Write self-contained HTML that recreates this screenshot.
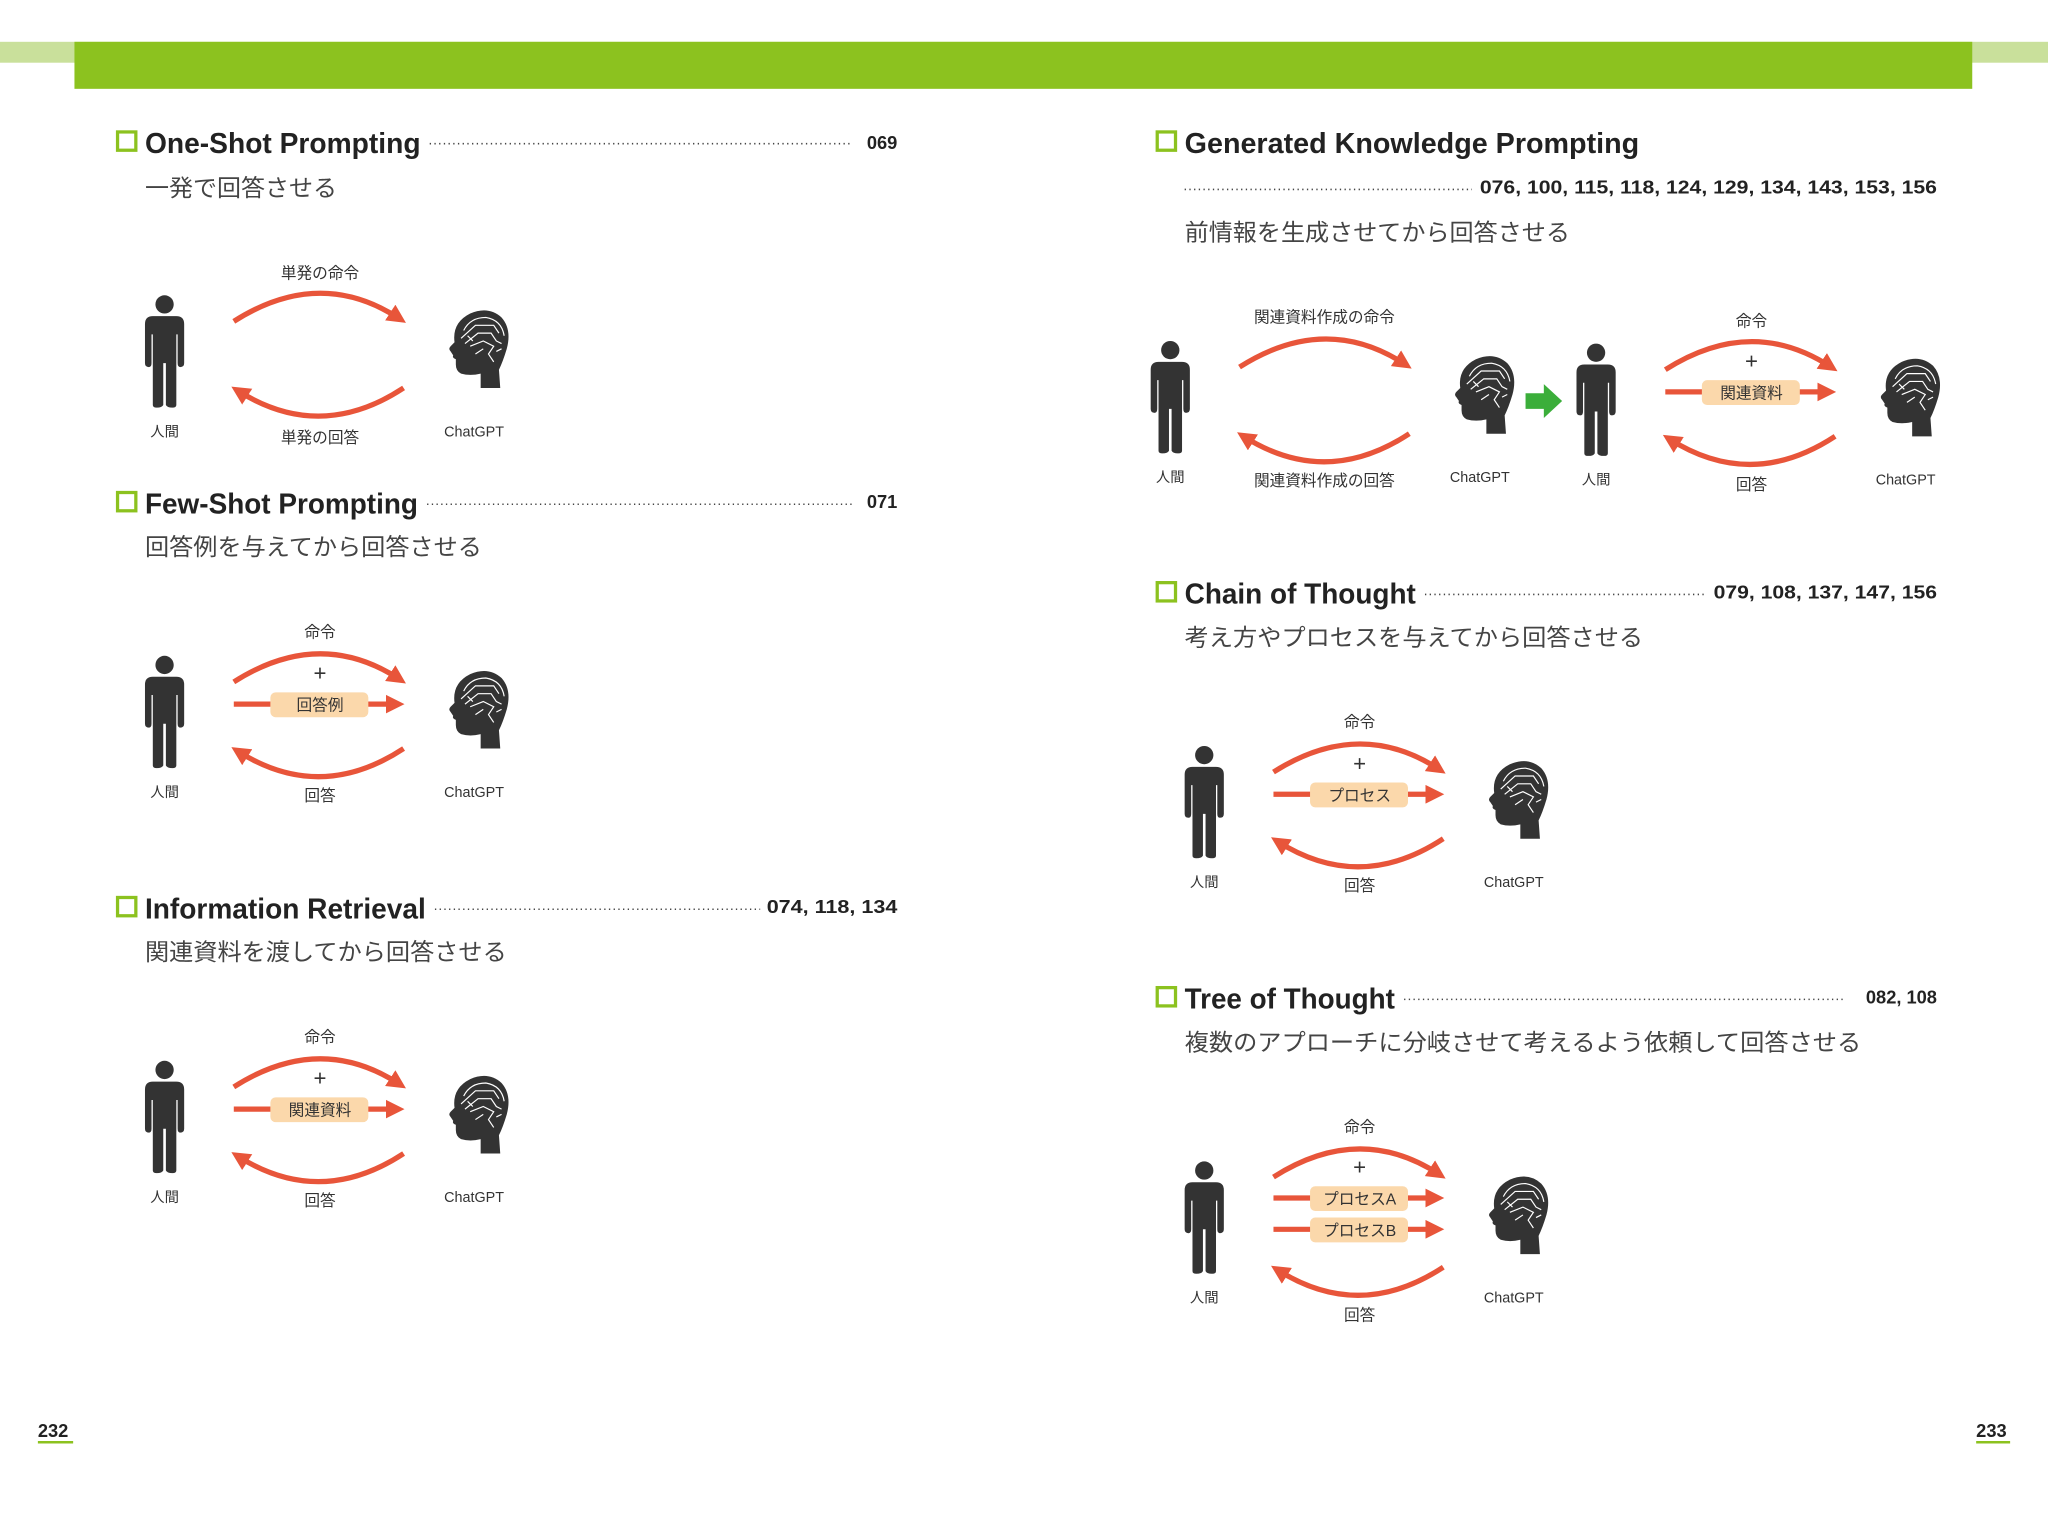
<!DOCTYPE html>
<html><head><meta charset="utf-8"><style>
html,body{margin:0;padding:0;background:#fff;width:2048px;height:1535px;overflow:hidden}
svg{display:block}
.t{font-family:"Liberation Sans","Noto Sans CJK JP",sans-serif;font-weight:bold;font-size:22px;fill:#222}
.n{font-family:"Liberation Sans",sans-serif;font-weight:bold;font-size:14px;fill:#222}
.s{font-family:"Liberation Sans","Noto Sans CJK JP",sans-serif;font-size:18px;fill:#444}
.l{font-family:"Liberation Sans","Noto Sans CJK JP",sans-serif;font-size:11px;fill:#333}
.lb{font-family:"Liberation Sans","Noto Sans CJK JP",sans-serif;font-size:12px;fill:#333}
.bx{font-family:"Liberation Sans","Noto Sans CJK JP",sans-serif;font-size:12px;fill:#333}
.dot{stroke:#444;stroke-width:1.2;stroke-dasharray:1 2.6}
.arc{fill:none;stroke:#e8553a;stroke-width:4}
</style></head><body>
<svg width="2048" height="1535" viewBox="0 0 1568 1175" preserveAspectRatio="none" xmlns="http://www.w3.org/2000/svg">
<defs>
<marker id="ah" viewBox="0 0 10 10" refX="6" refY="5" markerWidth="3.6" markerHeight="3.6" orient="auto"><path d="M0,0 L10,5 L0,10 Z" fill="#e8553a"/></marker>
<g id="person" fill="#333">
<circle cx="0" cy="7" r="7"/>
<path d="M-15,22 Q-15,16 -9,16 L9,16 Q15,16 15,22 L15,52 Q15,55 12,55 Q10,55 10,52 L10,30 L9,30 L9,84 Q9,86 6,86 Q2,86 1,84 L1,52 L-1,52 L-1,84 Q-2,86 -6,86 Q-9,86 -9,84 L-9,30 L-10,30 L-10,52 Q-10,55 -12,55 Q-15,55 -15,52 Z"/>
</g>
<g id="head">
<path fill="#333" d="M28,60 L28,49 Q20,51 13,49 Q9,47 9,42 L9,38 Q6,37 7,35 L5,32 Q3,30 5,28 L8,25 Q6,10 20,3 Q34,-3 44,6 Q52,15 48,30 Q45,40 42,46 L43,60 Z"/>
<g fill="none" stroke="#fff" stroke-width="0.9">
<path d="M15,16 Q20,6 32,6 Q44,8 46,20"/><path d="M13,22 L24,12 L38,12 L42,18"/>
<path d="M16,26 L26,18 L36,18 L40,24 L44,26"/><path d="M20,28 L30,24 L38,28 L34,34 L38,40"/>
<path d="M24,34 L30,30 M18,20 L22,24 M40,32 L44,30"/>
</g>
</g>
</defs>

<rect x="0" y="32" width="1568" height="16" fill="#c9e09b"/>
<rect x="57" y="32" width="1453" height="36" fill="#8cc21f"/>

<g>
<rect x="90" y="101" width="14" height="14" fill="none" stroke="#8cc21f" stroke-width="2.5"/>
<text class="t" x="111" y="117" textLength="211" lengthAdjust="spacingAndGlyphs">One-Shot Prompting</text>
<line class="dot" x1="329" y1="110" x2="653" y2="110"/>
<text class="n" x="687" y="114" text-anchor="end">069</text>
<text class="s" x="111" y="150" textLength="147" lengthAdjust="spacingAndGlyphs">一発で回答させる</text>

<rect x="90" y="377" width="14" height="14" fill="none" stroke="#8cc21f" stroke-width="2.5"/>
<text class="t" x="111" y="393" textLength="209" lengthAdjust="spacingAndGlyphs">Few-Shot Prompting</text>
<line class="dot" x1="327" y1="386" x2="653" y2="386"/>
<text class="n" x="687" y="389" text-anchor="end">071</text>
<text class="s" x="111" y="425" textLength="258" lengthAdjust="spacingAndGlyphs">回答例を与えてから回答させる</text>

<rect x="90" y="687" width="14" height="14" fill="none" stroke="#8cc21f" stroke-width="2.5"/>
<text class="t" x="111" y="703" textLength="215" lengthAdjust="spacingAndGlyphs">Information Retrieval</text>
<line class="dot" x1="333" y1="696" x2="582" y2="696"/>
<text class="n" x="587" y="699" textLength="100" lengthAdjust="spacingAndGlyphs">074, 118, 134</text>
<text class="s" x="111" y="735" textLength="277" lengthAdjust="spacingAndGlyphs">関連資料を渡してから回答させる</text>

<rect x="886" y="101" width="14" height="14" fill="none" stroke="#8cc21f" stroke-width="2.5"/>
<text class="t" x="907" y="117" textLength="348" lengthAdjust="spacingAndGlyphs">Generated Knowledge Prompting</text>
<line class="dot" x1="907" y1="145" x2="1127" y2="145"/>
<text class="n" x="1133" y="148" textLength="350" lengthAdjust="spacingAndGlyphs">076, 100, 115, 118, 124, 129, 134, 143, 153, 156</text>
<text class="s" x="907" y="184" textLength="295" lengthAdjust="spacingAndGlyphs">前情報を生成させてから回答させる</text>

<rect x="886" y="446" width="14" height="14" fill="none" stroke="#8cc21f" stroke-width="2.5"/>
<text class="t" x="907" y="462" textLength="177" lengthAdjust="spacingAndGlyphs">Chain of Thought</text>
<line class="dot" x1="1091" y1="455" x2="1306" y2="455"/>
<text class="n" x="1312" y="458" textLength="171" lengthAdjust="spacingAndGlyphs">079, 108, 137, 147, 156</text>
<text class="s" x="907" y="494" textLength="351" lengthAdjust="spacingAndGlyphs">考え方やプロセスを与えてから回答させる</text>

<rect x="886" y="756" width="14" height="14" fill="none" stroke="#8cc21f" stroke-width="2.5"/>
<text class="t" x="907" y="772" textLength="161" lengthAdjust="spacingAndGlyphs">Tree of Thought</text>
<line class="dot" x1="1075" y1="765" x2="1413" y2="765"/>
<text class="n" x="1483" y="768" text-anchor="end">082, 108</text>
<text class="s" x="907" y="804" textLength="518" lengthAdjust="spacingAndGlyphs">複数のアプローチに分岐させて考えるよう依頼して回答させる</text>
</g>

<g transform="translate(126,226)">
<use href="#person"/>
<use href="#head" x="214" y="11"/>
<text class="l" x="0" y="108" text-anchor="middle">人間</text>
<text class="l" x="237" y="108" text-anchor="middle">ChatGPT</text>
<path class="arc" d="M53,20 Q119,-22 180,18" marker-end="url(#ah)"/>
<path class="arc" d="M183,71 Q119,113 56,73" marker-end="url(#ah)"/>
<text class="lb" x="119" y="-13" text-anchor="middle">単発の命令</text>
<text class="lb" x="119" y="113" text-anchor="middle">単発の回答</text>
</g>

<g transform="translate(126,502)">
<use href="#person"/>
<use href="#head" x="214" y="11"/>
<text class="l" x="0" y="108" text-anchor="middle">人間</text>
<text class="l" x="237" y="108" text-anchor="middle">ChatGPT</text>
<path class="arc" d="M53,20 Q119,-22 180,18" marker-end="url(#ah)"/>
<line class="arc" x1="53" y1="37" x2="178" y2="37" marker-end="url(#ah)"/>
<rect x="81" y="28" width="75" height="19" rx="4" fill="#fbd8ab"/>
<text class="bx" x="119" y="42" text-anchor="middle">回答例</text>
<text x="119" y="19" text-anchor="middle" font-family="Liberation Sans" font-size="17" fill="#333">+</text>
<path class="arc" d="M183,71 Q119,113 56,73" marker-end="url(#ah)"/>
<text class="lb" x="119" y="-14" text-anchor="middle">命令</text>
<text class="lb" x="119" y="111" text-anchor="middle">回答</text>
</g>

<g transform="translate(126,812)">
<use href="#person"/>
<use href="#head" x="214" y="11"/>
<text class="l" x="0" y="108" text-anchor="middle">人間</text>
<text class="l" x="237" y="108" text-anchor="middle">ChatGPT</text>
<path class="arc" d="M53,20 Q119,-22 180,18" marker-end="url(#ah)"/>
<line class="arc" x1="53" y1="37" x2="178" y2="37" marker-end="url(#ah)"/>
<rect x="81" y="28" width="75" height="19" rx="4" fill="#fbd8ab"/>
<text class="bx" x="119" y="42" text-anchor="middle">関連資料</text>
<text x="119" y="19" text-anchor="middle" font-family="Liberation Sans" font-size="17" fill="#333">+</text>
<path class="arc" d="M183,71 Q119,113 56,73" marker-end="url(#ah)"/>
<text class="lb" x="119" y="-14" text-anchor="middle">命令</text>
<text class="lb" x="119" y="111" text-anchor="middle">回答</text>
</g>

<g transform="translate(896,261)">
<use href="#person"/>
<use href="#head" x="214" y="11"/>
<text class="l" x="0" y="108" text-anchor="middle">人間</text>
<text class="l" x="237" y="108" text-anchor="middle">ChatGPT</text>
<path class="arc" d="M53,20 Q119,-22 180,18" marker-end="url(#ah)"/>
<path class="arc" d="M183,71 Q119,113 56,73" marker-end="url(#ah)"/>
<text class="lb" x="118" y="-14" text-anchor="middle">関連資料作成の命令</text>
<text class="lb" x="118" y="111" text-anchor="middle">関連資料作成の回答</text>
</g>
<path d="M1168,301 L1182,301 L1182,294 L1196,307 L1182,320 L1182,313 L1168,313 Z" fill="#3bae3a"/>

<g transform="translate(1222,263)">
<use href="#person"/>
<use href="#head" x="214" y="11"/>
<text class="l" x="0" y="108" text-anchor="middle">人間</text>
<text class="l" x="237" y="108" text-anchor="middle">ChatGPT</text>
<path class="arc" d="M53,20 Q119,-22 180,18" marker-end="url(#ah)"/>
<line class="arc" x1="53" y1="37" x2="178" y2="37" marker-end="url(#ah)"/>
<rect x="81" y="28" width="75" height="19" rx="4" fill="#fbd8ab"/>
<text class="bx" x="119" y="42" text-anchor="middle">関連資料</text>
<text x="119" y="19" text-anchor="middle" font-family="Liberation Sans" font-size="17" fill="#333">+</text>
<path class="arc" d="M183,71 Q119,113 56,73" marker-end="url(#ah)"/>
<text class="lb" x="119" y="-13" text-anchor="middle">命令</text>
<text class="lb" x="119" y="112" text-anchor="middle">回答</text>
</g>

<g transform="translate(922,571)">
<use href="#person"/>
<use href="#head" x="214" y="11"/>
<text class="l" x="0" y="108" text-anchor="middle">人間</text>
<text class="l" x="237" y="108" text-anchor="middle">ChatGPT</text>
<path class="arc" d="M53,20 Q119,-22 180,18" marker-end="url(#ah)"/>
<line class="arc" x1="53" y1="37" x2="178" y2="37" marker-end="url(#ah)"/>
<rect x="81" y="28" width="75" height="19" rx="4" fill="#fbd8ab"/>
<text class="bx" x="119" y="42" text-anchor="middle">プロセス</text>
<text x="119" y="19" text-anchor="middle" font-family="Liberation Sans" font-size="17" fill="#333">+</text>
<path class="arc" d="M183,71 Q119,113 56,73" marker-end="url(#ah)"/>
<text class="lb" x="119" y="-14" text-anchor="middle">命令</text>
<text class="lb" x="119" y="111" text-anchor="middle">回答</text>
</g>

<g transform="translate(922,889)">
<use href="#person"/>
<use href="#head" x="214" y="11"/>
<text class="l" x="0" y="108" text-anchor="middle">人間</text>
<text class="l" x="237" y="108" text-anchor="middle">ChatGPT</text>
<path class="arc" d="M53,12 Q119,-30 180,10" marker-end="url(#ah)"/>
<line class="arc" x1="53" y1="28" x2="178" y2="28" marker-end="url(#ah)"/>
<line class="arc" x1="53" y1="52" x2="178" y2="52" marker-end="url(#ah)"/>
<rect x="81" y="19" width="75" height="19" rx="4" fill="#fbd8ab"/>
<rect x="81" y="43" width="75" height="19" rx="4" fill="#fbd8ab"/>
<text class="bx" x="119" y="33" text-anchor="middle">プロセスA</text>
<text class="bx" x="119" y="57" text-anchor="middle">プロセスB</text>
<text x="119" y="10" text-anchor="middle" font-family="Liberation Sans" font-size="17" fill="#333">+</text>
<path class="arc" d="M183,81 Q119,123 56,83" marker-end="url(#ah)"/>
<text class="lb" x="119" y="-22" text-anchor="middle">命令</text>
<text class="lb" x="119" y="122" text-anchor="middle">回答</text>
</g>

<text class="n" x="29" y="1100" font-size="13">232</text>
<line x1="29" y1="1104" x2="56" y2="1104" stroke="#8cc21f" stroke-width="2"/>
<text class="n" x="1513" y="1100" font-size="13">233</text>
<line x1="1513" y1="1104" x2="1539" y2="1104" stroke="#8cc21f" stroke-width="2"/>
</svg>
</body></html>
